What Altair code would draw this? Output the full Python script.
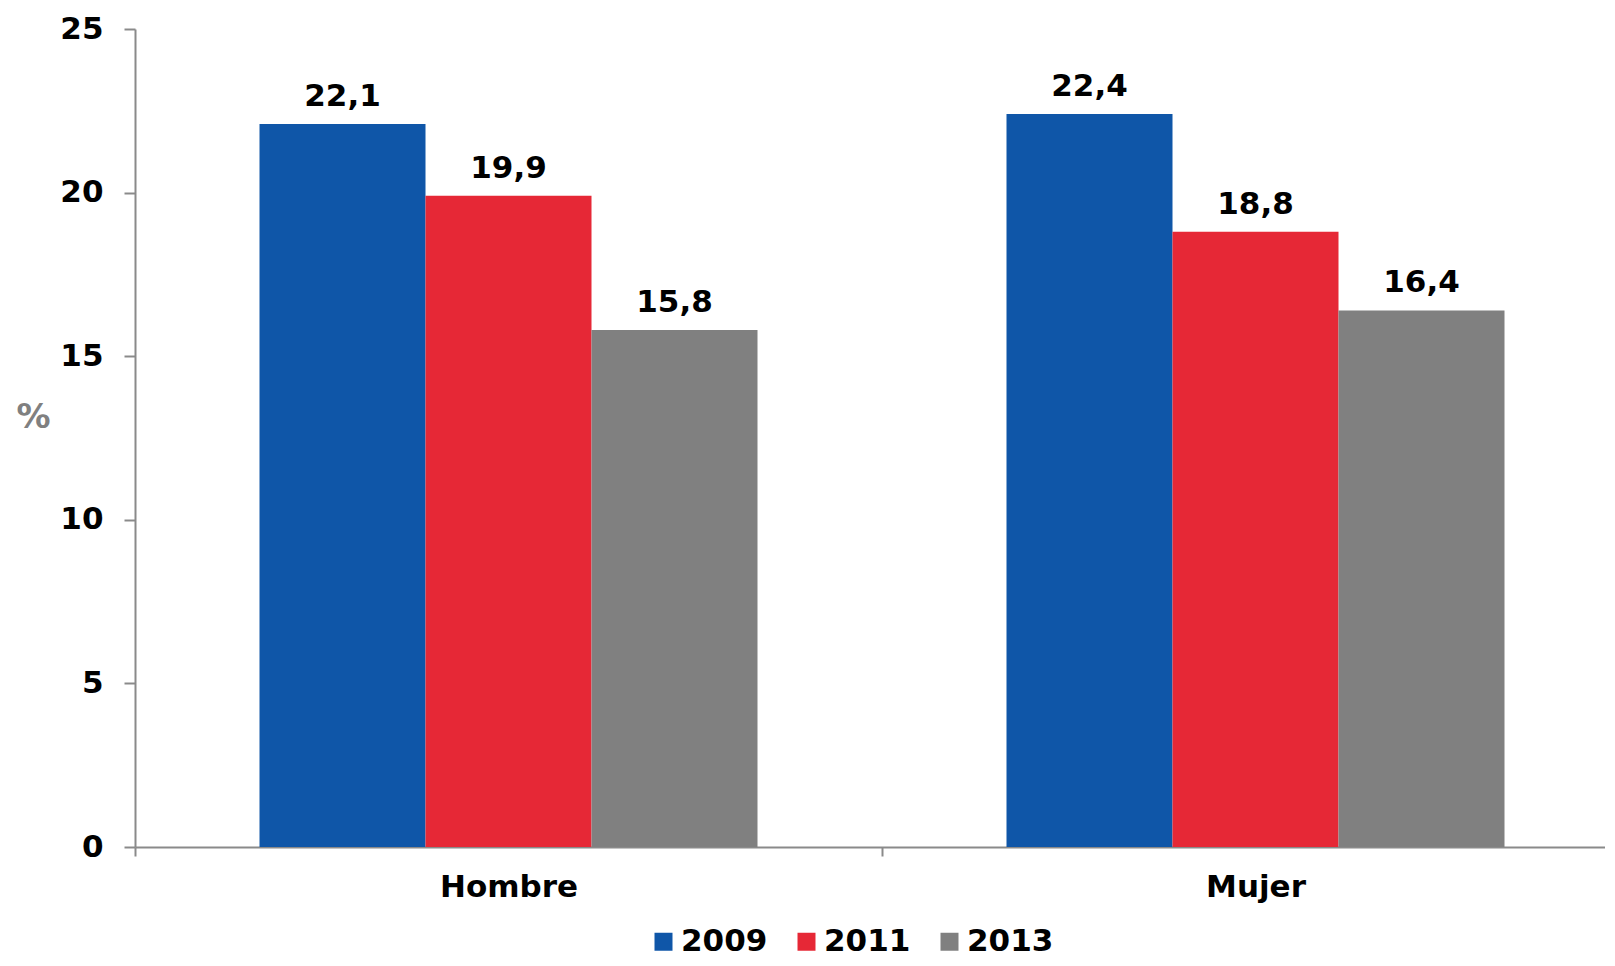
import altair as alt
import pandas as pd

# Data
sexo = ["Hombre", "Hombre", "Hombre", "Mujer", "Mujer", "Mujer"]
anio = ["2009", "2011", "2013", "2009", "2011", "2013"]
valor = [22.1, 19.9, 15.8, 22.4, 18.8, 16.4]
etiqueta = ["22,1", "19,9", "15,8", "22,4", "18,8", "16,4"]
anios = ["2009", "2011", "2013"]
sexos = ["Hombre", "Mujer"]
colores = ["#0F56A8", "#E62836", "#808080"]
y_ticks = [0, 5, 10, 15, 20, 25]

df = pd.DataFrame({"sexo": sexo, "anio": anio, "valor": valor, "etiqueta": etiqueta})

FONT = "DejaVu Sans"
AXIS_GRAY = "#8A8A8A"

x_enc = alt.X(
    "sexo:N",
    title=None,
    sort=sexos,
    scale=alt.Scale(paddingInner=0, paddingOuter=0, range=[0, 1494]),
    axis=alt.Axis(
        labelAngle=0,
        tickBand="extent",
        labelFont=FONT,
        labelFontSize=31,
        labelFontWeight="bold",
        labelColor="black",
        labelPadding=16,
        tickSize=9,
        tickColor=AXIS_GRAY,
        tickWidth=2,
        domainColor=AXIS_GRAY,
        domainWidth=2,
        grid=False,
    ),
)
xoff_scale = alt.Scale(paddingInner=0, paddingOuter=0.75)
y_enc = alt.Y(
    "valor:Q",
    scale=alt.Scale(domain=[0, 25], nice=False),
    axis=alt.Axis(
        values=y_ticks,
        title="%",
        titleAngle=0,
        titleX=-102,
        titleY=388,
        titleAlign="center",
        titleBaseline="middle",
        titleFont=FONT,
        titleFontSize=34,
        titleFontWeight="bold",
        titleColor="#808080",
        labelFont=FONT,
        labelFontSize=31,
        labelFontWeight="bold",
        labelColor="black",
        labelPadding=21,
        tickSize=11,
        tickColor=AXIS_GRAY,
        tickWidth=2,
        domainColor=AXIS_GRAY,
        domainWidth=2,
        grid=False,
    ),
)

bars = alt.Chart(df).mark_bar(strokeWidth=0).encode(
    x=x_enc,
    xOffset=alt.XOffset("anio:N", sort=anios, scale=xoff_scale),
    y=y_enc,
    color=alt.Color(
        "anio:N",
        sort=anios,
        scale=alt.Scale(domain=anios, range=colores),
        legend=alt.Legend(
            orient="none",
            legendX=513,
            legendY=897,
            direction="horizontal",
            title=None,
            symbolType="square",
            symbolSize=324,
            symbolStrokeWidth=0,
            labelFont=FONT,
            labelFontSize=31,
            labelFontWeight="bold",
            labelColor="black",
            labelOffset=2,
            columnPadding=23,
            padding=0,
            labelLimit=300,
        ),
    ),
)

text = alt.Chart(df).mark_text(
    dy=-18,
    baseline="alphabetic",
    font=FONT,
    fontSize=31,
    fontWeight="bold",
    color="black",
).encode(
    x=alt.X("sexo:N", sort=sexos),
    xOffset=alt.XOffset("anio:N", sort=anios),
    y=alt.Y("valor:Q"),
    text="etiqueta:N",
)

chart = (
    alt.layer(bars, text)
    .properties(
        width=1470,
        height=818,
        padding={"left": 127, "top": 21, "right": 0, "bottom": 111},
        autosize=alt.AutoSizeParams(type="none"),
        background="white",
    )
    .configure_view(stroke=None)
)

chart.save("out.html", embed_options={"renderer": "svg", "actions": False})
